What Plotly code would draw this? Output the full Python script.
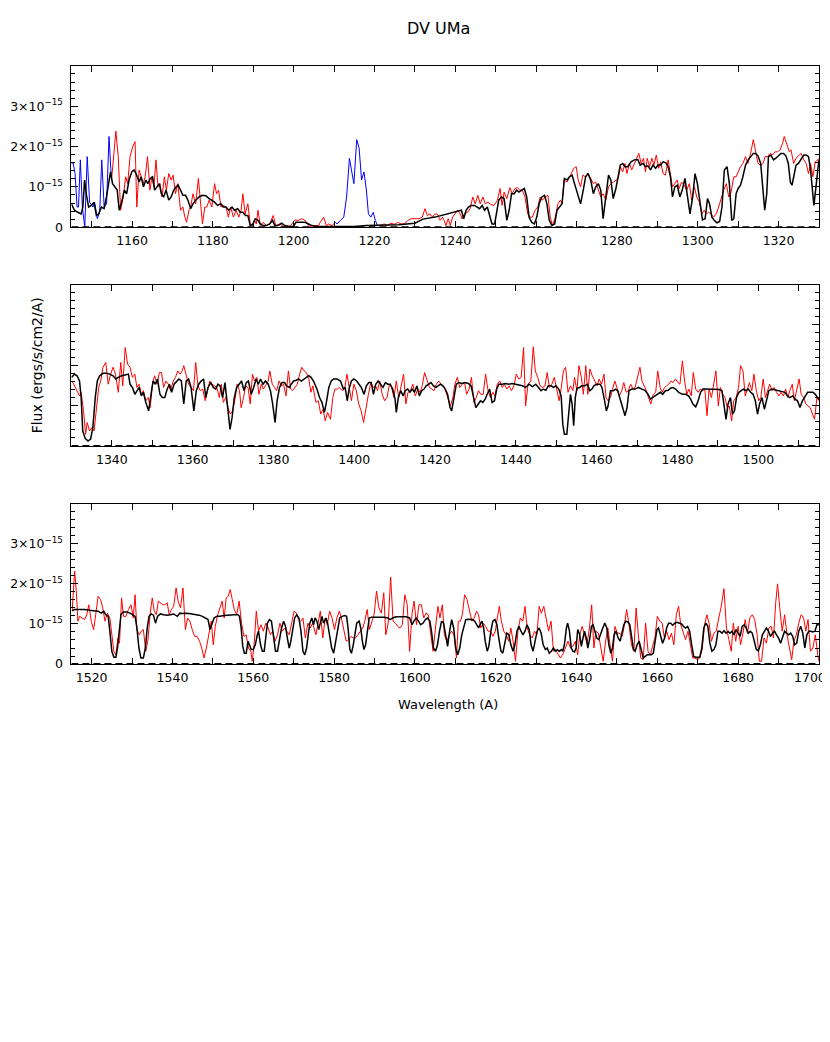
import plotly.graph_objects as go

# ---------------- Panel 1 (1145-1330 A), flux in 1e-15 erg/s/cm2/A ----------------
p1_blue_a_wave = [1145.0, 1145.4, 1145.9, 1146.4, 1146.75, 1147.2, 1147.7, 1148.3, 1148.9, 1149.5,
                  1150.3, 1150.75, 1151.4, 1152.0, 1152.5, 1153.1, 1153.7, 1154.3, 1154.9]
p1_blue_a_flux = [1.58, 1.60, 1.33, 0.50, 0.50, 1.67, 0.50, 0.00, 1.75, 0.62,
                  0.50, 0.62, 0.21, 0.38, 1.67, 0.50, 0.58, 2.25, 1.17]

p1_blue_b_wave = [1210.33, 1210.75, 1211.6, 1212.4, 1213.1, 1213.8, 1214.3, 1214.9, 1215.6, 1216.2,
                  1216.8, 1217.4, 1218.0, 1218.5, 1219.1, 1219.7, 1220.2, 1220.75, 1221.17]
p1_blue_b_flux = [0.12, 0.08, 0.17, 0.25, 0.75, 1.71, 1.42, 1.08, 2.17, 1.96,
                  1.17, 1.37, 0.92, 0.33, 0.25, 0.37, 0.17, 0.04, 0.04]

p1_red_a_wave = [1154.92, 1156.0, 1156.58, 1157.17, 1157.83, 1158.42, 1158.92, 1159.5, 1160.17, 1160.75,
                 1161.17, 1161.75, 1162.25, 1162.75, 1163.25, 1163.83, 1164.42, 1164.92, 1165.42, 1165.92,
                 1166.42, 1166.92, 1167.42, 1168.0, 1168.5, 1169.08, 1169.67, 1170.17, 1170.75, 1171.33,
                 1172.0, 1172.58, 1173.08, 1173.5, 1174.08, 1174.5, 1175.08, 1175.75, 1176.42, 1177.0,
                 1177.42, 1178.0, 1178.5, 1179.08, 1179.75, 1180.42, 1180.92, 1181.42, 1182.0, 1182.58,
                 1183.25, 1183.83, 1184.42, 1185.08, 1185.75, 1186.42, 1187.0, 1187.42, 1188.0, 1188.67,
                 1189.25, 1189.83, 1190.33, 1190.75, 1191.17, 1191.75, 1192.42, 1193.25, 1194.08, 1194.92,
                 1195.58, 1196.58, 1197.42, 1198.25, 1199.08, 1200.33, 1201.17, 1202.0, 1202.83, 1203.42,
                 1204.08, 1205.33, 1206.17, 1206.58, 1207.42, 1208.08, 1208.67, 1209.5, 1210.33]
p1_red_a_flux = [1.17, 2.38, 1.75, 0.42, 0.75, 1.25, 1.08, 1.75, 2.00, 2.12,
                 0.50, 1.42, 1.25, 1.08, 1.25, 1.75, 0.92, 1.25, 1.00, 1.67,
                 1.00, 1.08, 0.75, 1.25, 0.92, 1.33, 1.17, 1.29, 0.83, 1.08,
                 0.42, 0.50, 0.25, 0.12, 0.42, 0.50, 0.83, 0.58, 1.21, 0.42,
                 0.08, 0.50, 0.50, 0.67, 0.50, 1.08, 0.83, 0.92, 0.50, 0.54,
                 0.50, 0.25, 0.50, 0.25, 0.42, 0.25, 0.42, 0.83, 0.33, 0.58,
                 0.08, 0.04, 0.17, 0.08, 0.42, 0.04, 0.12, 0.04, 0.08, 0.29,
                 0.04, 0.08, 0.02, 0.04, 0.02, 0.18, 0.17, 0.21, 0.17, 0.07,
                 0.02, 0.04, 0.04, 0.12, 0.25, 0.04, 0.08, 0.04, 0.12]

p1_red_b_wave = [1221.17, 1222.42, 1223.25, 1224.08, 1224.92, 1225.75, 1226.58, 1227.42, 1228.25, 1229.08,
                 1231.0, 1231.83, 1232.5, 1233.08, 1233.75, 1234.33, 1234.92, 1235.58, 1236.25, 1236.83,
                 1237.25, 1237.67, 1238.25, 1238.75, 1239.33, 1240.0, 1240.58, 1241.17, 1241.67, 1242.25,
                 1243.08, 1243.67, 1244.33, 1244.92, 1245.58, 1246.17, 1246.83, 1247.42, 1248.08, 1248.75,
                 1249.58, 1250.42, 1251.08, 1251.58, 1252.08, 1252.75, 1253.5, 1254.08, 1254.75, 1255.33,
                 1256.0, 1256.58, 1257.25, 1257.92, 1258.5, 1259.08, 1259.75, 1260.42, 1261.0, 1261.58,
                 1262.25, 1262.92, 1263.5, 1264.08, 1264.75, 1265.42, 1266.0, 1266.42, 1266.92, 1267.67,
                 1268.25, 1268.75, 1269.33, 1269.92, 1270.42, 1271.0, 1271.58, 1272.25, 1272.92, 1273.5,
                 1274.17, 1274.75, 1275.42, 1276.0, 1276.58, 1277.25, 1277.92, 1278.5, 1279.17, 1279.75,
                 1280.33, 1280.83, 1281.42, 1282.0, 1282.5, 1283.08, 1283.67, 1284.17, 1284.75, 1285.42,
                 1286.0, 1286.58, 1287.08, 1287.5, 1288.08, 1288.67, 1289.17, 1289.75, 1290.33, 1290.83,
                 1291.42, 1292.0, 1292.67, 1293.25, 1293.75, 1294.33, 1294.92, 1295.42, 1296.0, 1296.67,
                 1297.25, 1297.92, 1298.5, 1299.17, 1299.75, 1300.42, 1301.0, 1301.58, 1302.08, 1302.67,
                 1303.25, 1303.92, 1304.58, 1305.17, 1305.75, 1306.42, 1307.08, 1307.67, 1308.25, 1308.92,
                 1309.5, 1310.0, 1310.58, 1311.17, 1311.83, 1312.42, 1313.08, 1313.75, 1314.33, 1314.92,
                 1315.58, 1316.17, 1316.67, 1317.25, 1317.92, 1318.5, 1319.17, 1319.75, 1320.42, 1321.0,
                 1321.42, 1322.08, 1322.67, 1323.08, 1323.75, 1324.33, 1325.0, 1325.58, 1326.25, 1326.83,
                 1327.42, 1327.92, 1328.5, 1329.08, 1329.75, 1330.0]
p1_red_b_flux = [0.04, 0.08, 0.04, 0.10, 0.07, 0.12, 0.08, 0.08, 0.17, 0.21,
                 0.21, 0.25, 0.46, 0.29, 0.33, 0.25, 0.33, 0.32, 0.17, 0.25,
                 0.17, 0.04, 0.21, 0.04, 0.25, 0.33, 0.42, 0.33, 0.21, 0.33,
                 0.37, 0.46, 0.75, 0.58, 0.79, 0.58, 0.75, 0.58, 0.62, 0.57,
                 0.54, 0.67, 0.96, 0.54, 0.87, 0.71, 0.98, 0.83, 0.96, 0.98,
                 0.92, 0.92, 0.75, 0.33, 0.25, 0.25, 0.42, 0.50, 0.75, 0.67,
                 0.75, 0.79, 0.25, 0.04, 0.25, 0.58, 0.67, 0.58, 1.17, 1.12,
                 1.25, 1.33, 1.46, 1.50, 1.17, 1.00, 1.29, 1.25, 1.33, 1.21,
                 1.08, 1.12, 0.92, 0.75, 0.83, 0.67, 1.00, 1.08, 1.12, 1.17,
                 1.21, 1.50, 1.37, 1.58, 1.33, 1.58, 1.42, 1.54, 1.67, 1.83,
                 1.58, 1.71, 1.37, 1.71, 1.50, 1.71, 1.54, 1.79, 1.46, 1.62,
                 1.33, 1.29, 1.67, 1.33, 1.00, 1.08, 1.17, 0.96, 1.12, 1.04,
                 0.92, 1.08, 0.67, 1.00, 0.75, 0.62, 0.33, 0.42, 0.33, 0.37,
                 0.33, 0.25, 0.33, 0.50, 0.71, 0.92, 1.08, 0.75, 0.87, 1.25,
                 1.25, 1.37, 1.50, 1.58, 1.75, 1.58, 1.83, 2.17, 1.83, 1.58,
                 1.54, 1.58, 1.75, 1.75, 1.83, 1.79, 1.87, 1.87, 1.92, 2.08,
                 2.25, 2.04, 1.87, 1.92, 1.58, 1.71, 1.79, 1.83, 1.67, 1.58,
                 1.33, 1.58, 1.25, 1.62, 1.67, 1.71]

p1_model_wave = [1145.0, 1145.75, 1146.58, 1147.42, 1147.83, 1148.25, 1148.67, 1149.25, 1149.92, 1150.58,
                 1151.17, 1151.75, 1152.42, 1153.08, 1153.67, 1154.08, 1154.67, 1155.17, 1155.75, 1156.33,
                 1156.83, 1157.42, 1158.08, 1158.67, 1159.25, 1159.92, 1160.5, 1161.17, 1161.75, 1162.25,
                 1162.83, 1163.42, 1163.92, 1164.5, 1165.08, 1165.58, 1166.17, 1166.75, 1167.25, 1167.83,
                 1168.42, 1169.08, 1169.67, 1170.33, 1170.92, 1171.42, 1172.0, 1172.58, 1173.25, 1173.83,
                 1174.5, 1175.08, 1175.75, 1176.58, 1177.42, 1178.25, 1179.08, 1179.75, 1180.42, 1181.17,
                 1182.0, 1182.58, 1183.25, 1183.92, 1184.75, 1185.33, 1186.17, 1186.75, 1187.42, 1188.08,
                 1188.67, 1189.25, 1189.92, 1190.5, 1191.17, 1191.75, 1192.42, 1193.25, 1194.08, 1194.75,
                 1195.33, 1196.17, 1197.0, 1197.83, 1198.67, 1199.92, 1200.58, 1201.58, 1202.83, 1203.67,
                 1204.5, 1205.75, 1210.0, 1215.0, 1218.0, 1222.0, 1226.0, 1230.0, 1232.0, 1235.0,
                 1238.0, 1240.0, 1241.5, 1242.08, 1242.67, 1243.25, 1243.92, 1244.75, 1245.42, 1246.0,
                 1246.67, 1247.25, 1247.92, 1248.5, 1249.08, 1249.75, 1250.25, 1250.75, 1251.42, 1252.08,
                 1252.75, 1253.33, 1253.92, 1254.58, 1255.17, 1255.75, 1256.42, 1257.08, 1257.67, 1258.25,
                 1258.92, 1259.58, 1260.17, 1260.75, 1261.42, 1262.08, 1262.67, 1263.25, 1263.92, 1264.58,
                 1265.17, 1265.75, 1266.42, 1267.0, 1267.67, 1268.25, 1268.92, 1269.5, 1270.17, 1271.0,
                 1271.67, 1272.25, 1272.83, 1273.5, 1274.17, 1274.75, 1275.42, 1276.0, 1276.58, 1277.25,
                 1277.92, 1278.5, 1279.08, 1279.75, 1280.33, 1280.83, 1281.42, 1282.0, 1282.67, 1283.5,
                 1284.33, 1285.17, 1285.75, 1286.42, 1287.08, 1287.67, 1288.33, 1288.92, 1289.58, 1290.17,
                 1290.83, 1291.42, 1292.08, 1292.67, 1293.25, 1293.75, 1294.33, 1294.92, 1295.58, 1296.17,
                 1296.83, 1297.42, 1298.08, 1298.75, 1299.33, 1299.92, 1300.58, 1301.17, 1301.83, 1302.42,
                 1302.92, 1303.5, 1304.08, 1304.75, 1305.42, 1306.0, 1306.58, 1307.25, 1307.83, 1308.42,
                 1308.92, 1309.5, 1310.0, 1310.58, 1311.17, 1311.83, 1312.5, 1313.08, 1313.75, 1314.33,
                 1314.92, 1315.58, 1316.17, 1316.58, 1317.08, 1317.5, 1318.08, 1318.75, 1319.33, 1320.0,
                 1320.58, 1321.25, 1321.83, 1322.42, 1322.92, 1323.33, 1323.75, 1324.33, 1324.92, 1325.58,
                 1326.25, 1326.83, 1327.42, 1327.92, 1328.33, 1328.75, 1329.17, 1329.75, 1330.0]
p1_model_flux = [0.58, 0.42, 0.37, 0.33, 0.50, 1.17, 0.83, 0.50, 0.54, 0.62,
                 0.29, 0.33, 0.50, 0.46, 0.75, 1.00, 1.37, 1.08, 1.00, 0.92,
                 0.42, 0.62, 0.92, 0.83, 1.17, 1.37, 1.42, 1.29, 1.12, 1.25,
                 1.00, 1.17, 1.08, 1.21, 1.25, 0.92, 1.00, 1.08, 0.83, 0.75,
                 0.92, 0.67, 0.75, 0.92, 1.00, 1.04, 0.92, 0.79, 0.79, 0.67,
                 0.46, 0.58, 0.67, 0.75, 0.79, 0.78, 0.71, 0.67, 0.62, 0.54,
                 0.58, 0.50, 0.50, 0.42, 0.50, 0.42, 0.46, 0.37, 0.37, 0.29,
                 0.29, 0.04, 0.08, 0.21, 0.17, 0.08, 0.04, 0.04, 0.08, 0.17,
                 0.04, 0.04, 0.10, 0.04, 0.02, 0.02, 0.12, 0.12, 0.12, 0.08,
                 0.04, 0.02, 0.02, 0.02, 0.04, 0.05, 0.06, 0.10, 0.20, 0.25,
                 0.33, 0.38, 0.42, 0.21, 0.42, 0.50, 0.54, 0.54, 0.50, 0.46,
                 0.54, 0.42, 0.50, 0.29, 0.08, 0.08, 0.33, 0.67, 0.75, 0.71,
                 0.17, 0.42, 0.83, 0.83, 0.92, 0.87, 0.92, 0.96, 0.75, 0.25,
                 0.12, 0.08, 0.25, 0.58, 0.75, 0.79, 0.58, 0.17, 0.04, 0.08,
                 0.42, 0.50, 0.58, 1.21, 1.17, 1.25, 1.29, 1.08, 0.83, 0.58,
                 0.92, 1.25, 1.33, 1.17, 0.83, 1.00, 1.08, 0.92, 0.21, 0.75,
                 1.29, 1.17, 0.71, 0.96, 1.25, 1.54, 1.58, 1.50, 1.50, 1.62,
                 1.67, 1.68, 1.54, 1.58, 1.50, 1.52, 1.42, 1.54, 1.46, 1.54,
                 1.54, 1.62, 1.60, 1.50, 1.25, 0.75, 1.00, 1.04, 0.75, 0.92,
                 1.21, 0.83, 0.33, 0.75, 1.33, 1.08, 0.62, 0.18, 0.21, 0.71,
                 0.58, 0.25, 0.17, 0.11, 0.14, 0.50, 1.42, 1.50, 1.08, 0.17,
                 0.21, 0.83, 0.96, 1.04, 1.25, 1.54, 1.67, 1.75, 1.83, 1.83,
                 1.77, 1.58, 0.75, 0.42, 0.83, 1.75, 1.79, 1.67, 1.71, 1.79,
                 1.83, 1.83, 1.77, 1.58, 1.12, 1.04, 1.25, 1.54, 1.58, 1.67,
                 1.79, 1.79, 1.75, 1.42, 0.92, 0.54, 0.92, 1.58, 1.67]

# ---------------- Panel 2 (1330-1515 A) ----------------
p2_red_wave = [1330.17, 1330.75, 1331.4, 1332.0, 1332.4, 1333.0, 1333.5, 1333.9, 1334.5, 1335.1,
               1335.6, 1336.2, 1336.75, 1337.25, 1337.8, 1338.5, 1339.1, 1339.7, 1340.3, 1340.9,
               1341.6, 1342.2, 1342.7, 1343.3, 1343.9, 1344.5, 1345.1, 1345.7, 1346.2, 1346.75,
               1347.3, 1347.8, 1348.4, 1349.0, 1349.5, 1350.1, 1350.6, 1351.2, 1351.75, 1352.3,
               1352.8, 1353.4, 1354.0, 1354.5, 1355.2, 1355.75, 1356.3, 1356.9, 1357.4, 1357.8,
               1358.4, 1359.0, 1359.6, 1360.2, 1360.75, 1361.3, 1361.9, 1362.5, 1363.1, 1363.7,
               1364.25, 1364.8, 1365.4, 1366.0, 1366.6, 1367.1, 1367.6, 1368.2, 1368.75, 1369.3,
               1369.9, 1370.5, 1371.0, 1371.6, 1372.0, 1372.6, 1373.1, 1373.7, 1374.25, 1374.8,
               1375.3, 1375.9, 1376.4, 1377.0, 1377.5, 1378.1, 1378.7, 1379.1, 1379.7, 1380.25,
               1380.8, 1381.4, 1382.0, 1382.5, 1383.1, 1383.7, 1384.25, 1384.75, 1385.3, 1385.9,
               1386.5, 1387.0, 1387.6, 1388.1, 1388.7, 1389.25, 1389.75, 1390.5, 1391.1, 1391.7,
               1392.3, 1392.8, 1393.4, 1394.1, 1394.7, 1395.2, 1395.8, 1396.3, 1397.0, 1397.6,
               1398.2, 1398.75, 1399.3, 1399.9, 1400.5, 1401.1, 1401.7, 1402.3, 1402.9, 1403.5,
               1404.1, 1404.7, 1405.3, 1405.75, 1406.3, 1406.9, 1407.5, 1408.1, 1408.7, 1409.25,
               1409.8, 1410.4, 1411.0, 1411.6, 1412.2, 1412.75, 1413.3, 1413.9, 1414.5, 1415.1,
               1415.7, 1416.3, 1416.8, 1417.4, 1418.0, 1418.6, 1419.2, 1419.75, 1420.3, 1420.9,
               1421.5, 1422.1, 1422.7, 1423.3, 1423.8, 1424.4, 1424.9, 1425.5, 1426.1, 1426.7,
               1427.3, 1427.8, 1428.4, 1429.0, 1429.6, 1430.2, 1430.75, 1431.3, 1431.9, 1432.5,
               1433.1, 1433.7, 1434.3, 1434.8, 1435.4, 1436.0, 1436.6, 1437.2, 1437.75, 1438.3,
               1438.9, 1439.5, 1440.1, 1440.7, 1441.3, 1441.9, 1442.4, 1443.0, 1443.7, 1444.3,
               1444.8, 1445.4, 1446.0, 1446.6, 1447.2, 1447.75, 1448.3, 1448.9, 1449.5, 1450.1,
               1450.7, 1451.25, 1451.75, 1452.3, 1452.9, 1453.5, 1454.1, 1454.5, 1455.1, 1455.6,
               1456.2, 1456.7, 1457.3, 1457.8, 1458.3, 1458.9, 1459.5, 1460.1, 1460.6, 1461.2,
               1461.8, 1462.3, 1462.8, 1463.4, 1463.9, 1464.5, 1465.1, 1465.6, 1466.2, 1466.7,
               1467.3, 1467.8, 1468.4, 1469.0, 1469.5, 1470.1, 1470.7, 1471.2, 1471.75, 1472.3,
               1472.8, 1473.4, 1474.0, 1474.6, 1475.1, 1475.7, 1476.2, 1476.8, 1477.3, 1477.8,
               1478.4, 1478.9, 1479.5, 1480.1, 1480.6, 1481.2, 1481.75, 1482.3, 1482.8, 1483.4,
               1483.9, 1484.5, 1485.1, 1485.6, 1486.2, 1486.75, 1487.3, 1487.8, 1488.4, 1488.9,
               1489.5, 1490.1, 1490.6, 1491.2, 1491.75, 1492.3, 1492.8, 1493.4, 1493.9, 1494.5,
               1495.1, 1495.6, 1496.2, 1496.75, 1497.3, 1497.8, 1498.4, 1498.9, 1499.5, 1500.1,
               1500.6, 1501.2, 1501.75, 1502.3, 1502.8, 1503.4, 1503.9, 1504.5, 1505.1, 1505.6,
               1506.2, 1506.75, 1507.3, 1507.8, 1508.4, 1508.9, 1509.5, 1510.1, 1510.6, 1511.2,
               1511.75, 1512.3, 1512.8, 1513.4, 1513.9, 1514.5, 1515.0]
p2_red_flux = [1.61, 1.49, 1.37, 1.24, 1.33, 0.87, 0.29, 0.58, 0.37, 0.46,
               0.37, 0.95, 1.45, 1.61, 1.95, 2.07, 1.53, 1.78, 1.95, 1.78,
               1.33, 2.07, 1.49, 2.44, 2.03, 1.95, 1.70, 1.78, 1.45, 1.53,
               1.28, 1.37, 1.12, 1.20, 0.95, 1.57, 1.74, 1.53, 1.82, 1.82,
               1.45, 1.61, 1.53, 1.37, 1.61, 1.70, 1.86, 1.78, 1.86, 1.99,
               1.78, 1.53, 1.45, 1.37, 2.07, 1.49, 1.37, 1.41, 1.12, 1.41,
               1.61, 1.53, 1.49, 1.45, 1.20, 1.53, 1.08, 1.20, 0.95, 0.79,
               0.87, 1.16, 1.53, 1.37, 0.95, 1.20, 1.49, 1.45, 1.04, 1.78,
               1.61, 1.70, 1.28, 1.53, 1.41, 1.53, 1.61, 1.86, 1.53, 1.45,
               1.37, 1.61, 1.49, 1.53, 1.24, 1.86, 1.41, 1.37, 1.45, 1.53,
               1.78, 1.95, 1.86, 1.82, 1.70, 1.33, 1.49, 1.08, 1.12, 0.79,
               0.91, 0.62, 0.83, 0.66, 1.20, 1.41, 1.41, 1.45, 1.37, 1.41,
               1.78, 1.49, 1.12, 1.53, 1.37, 1.04, 0.87, 0.58, 0.99, 1.28,
               1.57, 1.45, 1.49, 1.37, 1.61, 1.28, 1.12, 1.20, 1.53, 1.45,
               1.20, 1.61, 1.20, 1.45, 1.78, 1.04, 1.33, 1.37, 1.53, 1.24,
               1.41, 1.33, 1.49, 1.82, 1.61, 1.45, 1.41, 1.37, 1.53, 1.61,
               1.53, 1.49, 1.33, 1.16, 0.99, 1.20, 1.53, 1.70, 1.45, 1.53,
               1.57, 1.28, 1.41, 1.70, 1.08, 1.20, 1.37, 1.28, 1.28, 1.78,
               1.37, 1.20, 1.33, 1.24, 1.53, 1.61, 1.45, 1.53, 1.41, 1.49,
               1.37, 1.49, 1.78, 1.66, 1.70, 2.44, 0.99, 1.53, 1.61, 2.46,
               1.86, 1.70, 1.49, 1.45, 1.49, 1.82, 1.45, 1.53, 1.70, 1.41,
               1.12, 1.45, 1.86, 1.95, 1.33, 1.49, 1.37, 1.70, 1.37, 1.99,
               1.70, 1.28, 1.99, 1.28, 1.91, 1.74, 1.61, 1.49, 1.66, 1.53,
               1.78, 1.20, 1.12, 1.20, 1.41, 1.61, 1.41, 1.24, 1.37, 1.57,
               1.33, 1.37, 1.53, 1.41, 1.45, 1.70, 1.95, 1.61, 1.49, 1.37,
               1.20, 1.04, 1.28, 1.33, 1.86, 1.45, 1.33, 1.45, 1.49, 1.53,
               1.61, 1.57, 1.66, 1.57, 1.53, 2.11, 1.61, 1.28, 1.41, 1.24,
               1.82, 1.41, 1.33, 1.41, 1.37, 1.41, 0.75, 1.41, 1.20, 1.53,
               1.86, 0.99, 1.45, 1.28, 1.20, 0.95, 0.99, 0.62, 1.12, 1.20,
               1.45, 1.99, 1.86, 1.24, 1.41, 1.57, 1.37, 1.78, 1.37, 1.12,
               1.20, 1.66, 1.20, 1.41, 1.53, 1.37, 1.45, 1.33, 1.24, 1.33,
               1.24, 1.41, 1.20, 1.37, 1.53, 1.12, 1.41, 1.66, 1.28, 1.20,
               1.04, 0.99, 0.95, 0.79, 0.66, 1.20, 1.12]

p2_model_wave = [1330.0, 1330.75, 1331.4, 1332.0, 1332.4, 1332.8, 1333.4, 1334.1, 1334.75, 1335.3,
                 1335.9, 1336.4, 1337.0, 1337.8, 1338.7, 1339.5, 1340.3, 1341.0, 1341.6, 1342.4,
                 1343.25, 1344.1, 1344.5, 1345.1, 1345.7, 1346.2, 1346.75, 1347.3, 1347.8, 1348.4,
                 1349.1, 1349.7, 1350.2, 1350.75, 1351.3, 1351.9, 1352.5, 1353.1, 1353.7, 1354.25,
                 1354.8, 1355.4, 1356.0, 1356.6, 1357.2, 1357.8, 1358.4, 1359.0, 1359.6, 1360.3,
                 1360.9, 1361.5, 1362.1, 1362.7, 1363.25, 1363.8, 1364.5, 1365.1, 1365.7, 1366.25,
                 1366.8, 1367.4, 1368.0, 1368.5, 1369.25, 1369.75, 1370.3, 1370.9, 1371.5, 1372.1,
                 1372.7, 1373.25, 1373.8, 1374.5, 1375.1, 1375.7, 1376.25, 1376.8, 1377.4, 1378.0,
                 1378.7, 1379.25, 1379.8, 1380.4, 1380.9, 1381.5, 1382.1, 1382.75, 1383.25, 1383.9,
                 1384.4, 1385.0, 1385.6, 1386.2, 1386.9, 1387.5, 1388.1, 1388.75, 1389.3, 1389.9,
                 1390.75, 1391.4, 1392.0, 1392.6, 1393.1, 1393.7, 1394.3, 1394.9, 1395.75, 1396.6,
                 1397.3, 1397.75, 1398.25, 1398.8, 1399.3, 1399.9, 1400.6, 1401.2, 1401.75, 1402.4,
                 1403.0, 1403.6, 1404.2, 1404.75, 1405.3, 1405.9, 1406.5, 1407.1, 1407.7, 1408.3,
                 1408.9, 1409.5, 1410.1, 1410.4, 1410.9, 1411.5, 1412.1, 1412.6, 1413.2, 1413.8,
                 1414.3, 1414.9, 1415.5, 1416.1, 1416.7, 1417.25, 1417.8, 1418.4, 1419.0, 1419.6,
                 1420.2, 1420.75, 1421.3, 1421.9, 1422.5, 1423.1, 1423.7, 1424.1, 1424.7, 1425.25,
                 1425.8, 1426.6, 1427.4, 1428.25, 1428.9, 1429.5, 1430.1, 1430.7, 1431.25, 1431.8,
                 1432.4, 1432.9, 1433.5, 1434.1, 1434.7, 1435.25, 1435.8, 1436.6, 1437.4, 1438.25,
                 1439.1, 1439.9, 1440.75, 1441.6, 1442.4, 1443.25, 1444.1, 1444.9, 1445.6, 1446.2,
                 1446.75, 1447.4, 1448.0, 1448.7, 1449.3, 1449.9, 1450.6, 1451.2, 1451.6, 1452.0,
                 1452.6, 1453.0, 1453.5, 1453.9, 1454.3, 1454.7, 1455.1, 1455.8, 1456.3, 1457.0,
                 1457.7, 1458.3, 1458.8, 1459.3, 1459.9, 1460.8, 1461.3, 1461.8, 1462.4, 1462.8,
                 1463.4, 1464.1, 1464.7, 1465.2, 1465.75, 1466.3, 1467.0, 1467.5, 1468.0, 1468.7,
                 1469.5, 1470.3, 1471.2, 1472.0, 1472.7, 1473.3, 1473.8, 1474.5, 1475.2, 1475.75,
                 1476.3, 1477.0, 1477.7, 1478.25, 1478.9, 1479.5, 1480.3, 1481.2, 1482.0, 1482.7,
                 1483.25, 1483.8, 1484.5, 1485.1, 1485.7, 1486.3, 1487.0, 1487.8, 1488.7, 1489.5,
                 1490.3, 1491.0, 1491.5, 1492.0, 1492.5, 1493.1, 1493.6, 1494.1, 1494.6, 1495.2,
                 1495.75, 1496.3, 1496.9, 1497.5, 1498.1, 1498.7, 1499.25, 1499.8, 1500.3, 1500.9,
                 1501.5, 1502.0, 1502.6, 1503.3, 1504.1, 1504.9, 1505.75, 1506.6, 1507.2, 1507.8,
                 1508.5, 1509.1, 1509.7, 1510.3, 1510.9, 1511.6, 1512.2, 1512.8, 1513.5, 1514.1,
                 1514.7, 1515.0]
p2_model_flux = [1.70, 1.78, 1.74, 1.61, 1.20, 0.37, 0.19, 0.12, 0.17, 0.46,
                 1.20, 1.61, 1.74, 1.80, 1.80, 1.78, 1.74, 1.66, 1.70, 1.74,
                 1.76, 1.78, 1.53, 1.45, 1.28, 1.37, 1.45, 1.24, 1.33, 1.08,
                 0.87, 1.28, 1.61, 1.53, 1.66, 1.28, 1.20, 1.20, 1.41, 1.53,
                 1.33, 1.53, 1.61, 1.66, 1.61, 1.04, 1.61, 1.66, 1.45, 0.87,
                 1.37, 1.53, 1.61, 1.66, 1.20, 1.45, 1.57, 1.45, 1.41, 1.53,
                 1.49, 1.20, 1.57, 1.04, 0.41, 0.70, 1.20, 1.45, 1.53, 1.61,
                 1.37, 1.57, 1.61, 1.28, 1.45, 1.66, 1.53, 1.66, 1.53, 1.61,
                 1.53, 1.37, 1.04, 0.58, 1.12, 1.45, 1.57, 1.57, 1.49, 1.45,
                 1.53, 1.61, 1.63, 1.66, 1.61, 1.66, 1.70, 1.74, 1.70, 1.61,
                 1.41, 1.20, 1.08, 0.83, 1.08, 1.45, 1.61, 1.66, 1.66, 1.61,
                 1.41, 1.45, 1.12, 1.45, 1.61, 1.66, 1.61, 1.53, 1.45, 1.28,
                 1.49, 1.57, 1.57, 1.28, 1.53, 1.61, 1.53, 1.45, 1.57, 1.53,
                 1.53, 1.41, 1.16, 0.83, 1.20, 1.37, 1.24, 1.37, 1.41, 1.33,
                 1.41, 1.33, 1.49, 1.24, 1.37, 1.41, 1.49, 1.53, 1.57, 1.49,
                 1.45, 1.49, 1.53, 1.49, 1.41, 1.28, 0.95, 0.87, 1.20, 1.53,
                 1.57, 1.55, 1.57, 1.55, 1.49, 1.20, 0.95, 1.04, 1.12, 1.08,
                 1.16, 1.28, 1.41, 1.08, 1.12, 1.41, 1.53, 1.53, 1.55, 1.53,
                 1.55, 1.53, 1.51, 1.49, 1.45, 1.53, 1.47, 1.53, 1.45, 1.37,
                 1.41, 1.38, 1.49, 1.49, 1.45, 1.49, 1.41, 1.24, 0.54, 0.29,
                 0.29, 0.70, 1.28, 1.04, 0.50, 1.20, 1.43, 1.45, 1.49, 1.49,
                 1.53, 1.37, 1.41, 1.49, 1.53, 1.53, 1.45, 1.20, 0.87, 0.99,
                 1.37, 1.37, 1.41, 1.37, 1.20, 0.99, 0.75, 0.95, 1.37, 1.41,
                 1.41, 1.45, 1.41, 1.37, 1.28, 1.16, 1.20, 1.24, 1.28, 1.33,
                 1.28, 1.37, 1.38, 1.43, 1.45, 1.41, 1.33, 1.28, 1.28, 1.24,
                 1.16, 1.04, 0.97, 1.12, 1.33, 1.41, 1.41, 1.41, 1.41, 1.41,
                 1.40, 1.37, 1.04, 0.66, 1.04, 1.20, 0.79, 0.87, 1.20, 1.33,
                 1.37, 1.41, 1.37, 1.41, 1.33, 1.28, 1.12, 0.79, 1.04, 1.20,
                 0.91, 1.12, 1.37, 1.41, 1.39, 1.37, 1.35, 1.33, 1.24, 1.20,
                 1.24, 1.16, 1.12, 0.95, 1.12, 1.24, 1.33, 1.33, 1.33, 1.28,
                 1.20, 1.15]

# ---------------- Panel 3 (1515-1700 A) ----------------
p3_red_wave = [1515.17, 1515.5, 1515.8, 1516.2, 1516.6, 1517.0, 1517.6, 1518.25, 1518.8, 1519.3,
               1519.9, 1520.5, 1521.0, 1521.6, 1522.2, 1522.75, 1523.3, 1523.9, 1524.5, 1525.0,
               1525.5, 1526.0, 1526.5, 1526.9, 1527.4, 1527.9, 1528.5, 1529.1, 1529.75, 1530.3,
               1530.75, 1531.2, 1531.8, 1532.3, 1532.8, 1533.4, 1533.9, 1534.5, 1535.0, 1535.5,
               1536.0, 1536.5, 1537.0, 1537.6, 1538.2, 1538.7, 1539.2, 1539.75, 1540.3, 1540.9,
               1541.4, 1542.0, 1542.6, 1543.2, 1543.75, 1544.3, 1544.9, 1545.5, 1546.1, 1546.7,
               1547.25, 1547.8, 1548.4, 1549.0, 1549.6, 1550.1, 1550.6, 1551.2, 1551.75, 1552.3,
               1552.8, 1553.3, 1553.8, 1554.3, 1554.8, 1555.3, 1555.9, 1556.5, 1557.1, 1557.7,
               1558.25, 1558.8, 1559.4, 1559.75, 1560.2, 1560.75, 1561.3, 1561.9, 1562.5, 1563.1,
               1563.7, 1564.25, 1564.8, 1565.4, 1566.0, 1566.6, 1567.2, 1567.8, 1568.3, 1568.9,
               1569.5, 1570.1, 1570.7, 1571.2, 1571.75, 1572.3, 1572.9, 1573.5, 1574.1, 1574.7,
               1575.5, 1576.1, 1576.6, 1577.2, 1577.8, 1578.3, 1578.9, 1579.5, 1580.1, 1580.7,
               1581.3, 1581.8, 1582.4, 1583.0, 1583.6, 1584.2, 1584.75, 1585.3, 1585.9, 1586.5,
               1587.1, 1587.6, 1588.2, 1588.75, 1589.3, 1589.9, 1590.5, 1591.1, 1591.7, 1592.3,
               1592.8, 1593.4, 1594.0, 1594.6, 1595.2, 1595.75, 1596.3, 1596.9, 1597.5, 1598.1,
               1598.7, 1599.3, 1599.8, 1600.4, 1601.0, 1601.6, 1602.2, 1602.75, 1603.3, 1603.9,
               1604.5, 1605.1, 1605.7, 1606.2, 1606.8, 1607.3, 1607.9, 1608.5, 1609.1, 1609.7,
               1610.3, 1610.75, 1611.3, 1611.8, 1612.3, 1612.9, 1613.5, 1614.1, 1614.7, 1615.25,
               1615.75, 1616.3, 1616.9, 1617.5, 1618.1, 1618.7, 1619.3, 1619.9, 1620.4, 1620.9,
               1621.4, 1622.0, 1622.6, 1623.2, 1623.75, 1624.3, 1624.9, 1625.5, 1626.1, 1626.7,
               1627.25, 1627.8, 1628.4, 1629.0, 1629.6, 1630.2, 1630.75, 1631.3, 1631.9, 1632.5,
               1633.1, 1633.7, 1634.3, 1634.8, 1635.4, 1636.0, 1636.75, 1637.3, 1637.9, 1638.5,
               1639.1, 1639.7, 1640.3, 1640.8, 1641.4, 1642.0, 1642.6, 1643.2, 1643.75, 1644.3,
               1644.8, 1645.4, 1646.0, 1646.6, 1647.2, 1647.75, 1648.3, 1648.9, 1649.5, 1650.1,
               1650.7, 1651.3, 1651.8, 1652.4, 1653.0, 1653.6, 1654.2, 1654.75, 1655.3, 1655.9,
               1656.5, 1657.1, 1657.7, 1658.3, 1658.8, 1659.4, 1660.0, 1660.6, 1661.2, 1661.75,
               1662.3, 1662.9, 1663.5, 1664.1, 1664.7, 1665.25, 1665.8, 1666.4, 1667.0, 1667.6,
               1668.2, 1668.75, 1669.3, 1669.9, 1670.5, 1671.1, 1671.7, 1672.25, 1672.8, 1673.4,
               1674.0, 1674.6, 1675.2, 1675.75, 1676.5, 1677.1, 1677.7, 1678.3, 1678.8, 1679.4,
               1680.0, 1680.6, 1681.2, 1681.75, 1682.3, 1682.9, 1683.5, 1684.1, 1684.7, 1685.25,
               1685.8, 1686.4, 1687.0, 1687.6, 1688.2, 1688.75, 1689.3, 1689.75, 1690.3, 1690.9,
               1691.5, 1692.1, 1692.7, 1693.25, 1693.8, 1694.4, 1695.0, 1695.6, 1696.2, 1696.75,
               1697.3, 1697.9, 1698.5, 1699.1, 1699.7, 1700.0]
p3_red_flux = [1.32, 1.90, 2.32, 1.82, 1.07, 1.19, 1.15, 1.11, 1.23, 1.48,
               1.07, 0.86, 1.23, 1.69, 1.61, 1.40, 1.07, 1.27, 1.15, 0.73,
               0.32, 0.23, 0.65, 0.52, 1.65, 1.19, 1.19, 1.36, 1.48, 1.15,
               1.73, 0.86, 0.73, 0.82, 0.86, 0.32, 0.57, 1.27, 1.65, 1.32,
               1.23, 1.57, 1.53, 1.48, 1.48, 1.53, 1.23, 1.36, 1.44, 1.90,
               1.57, 1.40, 1.90, 0.86, 1.15, 1.07, 0.86, 0.69, 0.69, 0.57,
               0.40, 0.15, 0.40, 0.69, 1.07, 0.48, 0.94, 1.23, 1.40, 1.57,
               1.15, 1.65, 1.69, 1.86, 1.61, 1.36, 1.23, 1.57, 1.02, 0.69,
               0.73, 0.40, 0.32, 0.07, 0.48, 1.32, 0.82, 0.98, 0.82, 1.02,
               0.90, 0.73, 0.82, 0.57, 0.73, 1.02, 0.82, 0.90, 0.82, 0.73,
               1.02, 1.32, 1.27, 1.11, 1.07, 1.15, 0.65, 1.02, 0.90, 1.02,
               0.73, 1.07, 1.32, 0.65, 1.15, 0.98, 1.32, 1.15, 0.86, 1.15,
               1.32, 1.15, 0.82, 0.57, 0.61, 0.69, 0.65, 0.65, 0.73, 0.82,
               0.90, 1.07, 1.36, 0.86, 1.02, 1.23, 1.82, 1.40, 1.27, 1.78,
               0.73, 1.02, 2.17, 1.07, 1.02, 0.94, 0.90, 0.98, 1.73, 1.48,
               0.32, 1.27, 1.57, 0.98, 1.48, 1.48, 1.15, 1.27, 1.23, 0.73,
               0.32, 0.90, 1.44, 1.15, 1.48, 0.73, 0.57, 0.73, 0.82, 0.73,
               0.15, 1.07, 1.07, 1.27, 1.73, 1.61, 1.32, 1.07, 1.15, 1.32,
               1.23, 0.90, 1.02, 0.94, 0.82, 0.82, 0.69, 0.82, 1.15, 1.44,
               1.07, 0.82, 0.73, 0.57, 0.90, 0.57, 0.07, 0.82, 1.15, 1.07,
               1.44, 0.90, 0.73, 0.65, 0.82, 0.73, 1.44, 1.27, 1.44, 1.15,
               0.82, 1.07, 0.32, 0.36, 0.27, 0.15, 0.27, 0.40, 0.57, 0.40,
               0.44, 0.57, 0.23, 0.73, 0.94, 0.73, 0.52, 0.90, 1.48, 0.40,
               0.82, 0.77, 0.40, 0.07, 0.57, 0.90, 0.48, 0.07, 0.94, 0.77,
               0.77, 0.69, 0.94, 1.36, 0.98, 0.48, 0.32, 1.40, 0.73, 0.15,
               0.11, 1.02, 0.32, 0.23, 0.44, 0.65, 1.19, 1.07, 1.02, 0.65,
               0.82, 0.61, 0.77, 0.48, 1.23, 1.44, 0.98, 0.82, 0.61, 0.82,
               0.48, 0.15, 0.15, 0.11, 0.15, 0.36, 0.98, 1.23, 1.02, 0.57,
               0.77, 0.82, 1.15, 1.40, 1.88, 0.90, 0.61, 0.32, 1.02, 0.57,
               0.94, 0.48, 0.77, 1.11, 0.77, 1.15, 1.23, 1.11, 0.73, 0.07,
               0.07, 0.65, 0.52, 0.90, 0.94, 0.65, 1.53, 2.00, 1.40, 0.82,
               1.23, 0.73, 0.40, 0.11, 0.57, 0.73, 1.02, 1.23, 1.15, 0.82,
               1.11, 0.32, 0.40, 0.73, 0.23, 0.07]

p3_model_wave = [1515.2, 1515.75, 1517.0, 1518.25, 1519.5, 1520.75, 1521.6, 1522.4, 1523.0, 1523.5,
                 1524.1, 1524.5, 1525.0, 1525.5, 1526.0, 1526.4, 1526.8, 1527.25, 1527.8, 1528.7,
                 1529.5, 1530.2, 1530.75, 1531.2, 1531.7, 1532.2, 1532.8, 1533.3, 1533.75, 1534.2,
                 1534.75, 1535.3, 1535.8, 1536.3, 1537.0, 1537.8, 1538.7, 1539.5, 1540.3, 1541.2,
                 1541.8, 1542.4, 1543.25, 1544.1, 1544.9, 1545.75, 1546.6, 1547.4, 1548.25, 1548.8,
                 1549.3, 1549.8, 1550.3, 1551.0, 1551.8, 1552.7, 1553.5, 1554.5, 1555.3, 1556.2,
                 1556.6, 1557.0, 1557.4, 1557.8, 1558.25, 1558.7, 1559.1, 1559.5, 1560.0, 1560.5,
                 1561.0, 1561.3, 1561.8, 1562.25, 1562.7, 1563.1, 1563.5, 1564.0, 1564.5, 1565.0,
                 1565.5, 1566.0, 1566.5, 1567.0, 1567.5, 1568.0, 1568.5, 1568.9, 1569.3, 1569.75,
                 1570.25, 1570.75, 1571.3, 1571.8, 1572.3, 1572.75, 1573.2, 1573.6, 1574.0, 1574.5,
                 1574.9, 1575.3, 1575.75, 1576.2, 1576.6, 1577.0, 1577.4, 1578.0, 1578.4, 1578.9,
                 1579.4, 1579.9, 1580.4, 1580.9, 1581.4, 1582.0, 1582.6, 1583.1, 1583.5, 1583.9,
                 1584.3, 1584.75, 1585.2, 1585.6, 1586.2, 1586.6, 1587.0, 1587.4, 1587.8, 1588.3,
                 1588.7, 1589.3, 1589.9, 1590.75, 1591.6, 1592.4, 1593.3, 1593.9, 1594.5, 1595.3,
                 1596.2, 1597.0, 1597.8, 1598.7, 1599.3, 1599.75, 1600.3, 1600.9, 1601.4, 1602.0,
                 1602.6, 1603.1, 1603.7, 1604.1, 1604.6, 1605.1, 1605.6, 1606.1, 1606.6, 1607.1,
                 1607.6, 1608.1, 1608.6, 1609.1, 1609.6, 1610.1, 1610.6, 1611.1, 1611.6, 1612.1,
                 1612.6, 1613.1, 1613.7, 1614.3, 1614.8, 1615.3, 1615.75, 1616.3, 1616.6, 1617.0,
                 1617.4, 1617.9, 1618.3, 1618.8, 1619.3, 1619.8, 1620.3, 1620.75, 1621.3, 1621.75,
                 1622.25, 1622.75, 1623.25, 1623.75, 1624.3, 1624.75, 1625.25, 1625.75, 1626.25, 1626.75,
                 1627.25, 1627.75, 1628.3, 1628.75, 1629.25, 1629.75, 1630.25, 1630.75, 1631.25, 1631.75,
                 1632.3, 1632.75, 1633.25, 1633.75, 1634.3, 1634.75, 1635.25, 1635.75, 1636.3, 1636.6,
                 1637.0, 1637.5, 1637.8, 1638.25, 1638.7, 1639.1, 1639.5, 1639.9, 1640.3, 1640.8,
                 1641.2, 1641.6, 1642.0, 1642.4, 1642.8, 1643.3, 1643.7, 1644.1, 1644.5, 1645.0,
                 1645.5, 1646.0, 1646.5, 1647.0, 1647.5, 1648.0, 1648.5, 1648.9, 1649.3, 1649.8,
                 1650.3, 1650.8, 1651.2, 1651.7, 1652.2, 1652.7, 1653.2, 1653.7, 1654.1, 1654.5,
                 1655.0, 1655.5, 1656.0, 1656.5, 1657.0, 1657.5, 1658.0, 1658.5, 1659.0, 1659.5,
                 1659.9, 1660.3, 1660.8, 1661.3, 1661.8, 1662.3, 1662.8, 1663.3, 1663.8, 1664.3,
                 1664.9, 1665.5, 1666.0, 1666.5, 1667.0, 1667.5, 1668.0, 1668.5, 1669.0, 1669.5,
                 1670.0, 1670.5, 1671.0, 1671.5, 1672.0, 1672.5, 1673.0, 1673.5, 1674.0, 1674.5,
                 1675.0, 1675.5, 1676.0, 1676.5, 1677.0, 1677.5, 1678.0, 1678.5, 1679.0, 1679.5,
                 1680.0, 1680.5, 1681.0, 1681.5, 1682.0, 1682.5, 1683.0, 1683.5, 1684.0, 1684.5,
                 1685.0, 1685.5, 1686.0, 1686.5, 1687.0, 1687.5, 1688.0, 1688.5, 1689.0, 1689.5,
                 1690.0, 1690.5, 1691.0, 1691.5, 1692.0, 1692.5, 1693.0, 1693.5, 1694.0, 1694.5,
                 1695.0, 1695.5, 1696.0, 1696.5, 1697.0, 1697.5, 1698.0, 1698.5, 1699.0, 1699.5,
                 1700.0]
p3_model_flux = [1.33, 1.36, 1.36, 1.36, 1.34, 1.33, 1.32, 1.27, 1.32, 1.23,
                 1.19, 0.82, 0.32, 0.17, 0.17, 0.40, 0.90, 1.23, 1.30, 1.30,
                 1.27, 1.23, 1.19, 0.90, 0.40, 0.15, 0.15, 0.40, 0.90, 1.19,
                 1.25, 1.22, 1.02, 1.19, 1.25, 1.23, 1.22, 1.23, 1.25, 1.19,
                 1.27, 1.26, 1.27, 1.26, 1.25, 1.23, 1.22, 1.19, 1.15, 1.11,
                 0.86, 1.02, 1.15, 1.19, 1.19, 1.21, 1.22, 1.22, 1.23, 1.23,
                 1.19, 0.90, 0.44, 0.27, 0.27, 0.57, 0.48, 0.36, 0.36, 0.48,
                 0.73, 0.82, 0.48, 0.32, 0.32, 0.65, 1.02, 1.11, 1.07, 0.69,
                 0.32, 0.32, 0.65, 0.90, 1.07, 0.94, 0.61, 0.40, 0.57, 0.90,
                 1.15, 1.23, 1.15, 0.82, 0.32, 0.23, 0.40, 0.73, 1.02, 1.15,
                 0.98, 1.15, 1.07, 0.86, 1.07, 1.19, 1.02, 1.15, 1.02, 0.65,
                 0.40, 0.27, 0.57, 0.90, 1.15, 1.19, 1.21, 1.19, 0.86, 0.36,
                 0.27, 0.48, 0.82, 1.02, 1.07, 0.90, 0.57, 0.36, 0.48, 0.82,
                 1.15, 1.17, 1.17, 1.17, 1.17, 1.17, 1.15, 1.11, 1.15, 1.18,
                 1.18, 1.18, 1.18, 1.15, 0.98, 1.07, 1.15, 1.07, 0.98, 1.02,
                 1.11, 1.15, 1.07, 0.82, 0.40, 0.32, 0.48, 0.82, 1.07, 1.02,
                 0.77, 0.44, 0.82, 1.11, 0.90, 0.40, 0.23, 0.40, 0.73, 0.94,
                 1.11, 1.12, 1.12, 1.11, 1.07, 0.98, 0.90, 1.02, 1.07, 0.90,
                 0.57, 0.32, 0.44, 0.82, 1.07, 1.11, 0.98, 0.65, 0.32, 0.27,
                 0.57, 0.77, 0.73, 0.48, 0.32, 0.48, 0.82, 0.94, 0.82, 0.73,
                 0.82, 0.98, 0.86, 0.48, 0.32, 0.57, 0.82, 0.90, 0.77, 0.48,
                 0.36, 0.40, 0.27, 0.32, 0.40, 0.32, 0.36, 0.32, 0.36, 0.32,
                 0.48, 0.90, 1.02, 0.82, 0.40, 0.32, 0.30, 0.40, 0.86, 0.73,
                 0.44, 0.65, 0.82, 0.65, 0.40, 0.65, 0.94, 0.98, 0.82, 0.65,
                 0.61, 0.77, 0.90, 1.02, 0.90, 0.48, 0.27, 0.40, 0.73, 0.82,
                 0.65, 0.57, 0.77, 0.98, 1.07, 1.05, 0.98, 0.65, 0.36, 0.32,
                 0.48, 0.57, 0.32, 0.15, 0.19, 0.23, 0.23, 0.23, 0.27, 0.57,
                 0.86, 0.90, 0.73, 0.52, 0.65, 0.90, 1.02, 1.02, 0.97, 1.02,
                 1.04, 1.02, 1.00, 0.94, 0.90, 0.94, 0.82, 0.48, 0.19, 0.17,
                 0.17, 0.17, 0.40, 0.90, 1.02, 0.94, 0.52, 0.32, 0.36, 0.48,
                 0.82, 0.82, 0.77, 0.83, 0.77, 0.82, 0.77, 0.82, 0.73, 0.86,
                 0.77, 0.69, 0.94, 0.98, 0.90, 0.77, 0.82, 0.77, 0.57, 0.36,
                 0.33, 0.48, 0.73, 0.82, 0.90, 0.82, 0.69, 0.77, 0.82, 0.73,
                 0.65, 0.52, 0.69, 0.82, 0.77, 0.73, 0.77, 0.69, 0.48, 0.52,
                 0.82, 0.94, 0.77, 0.40, 0.73, 0.82, 0.82, 0.80, 0.82, 0.98,
                 0.98]

# ---------------- Axis text ----------------
title_text = "DV UMa"
x_title = "Wavelength (A)"
y_title = "Flux (ergs/s/cm2/A)"
flux_tick_vals = [0, 1, 2, 3]
sci_tick_text = ["0", "10<sup>−15</sup>", "2×10<sup>−15</sup>", "3×10<sup>−15</sup>"]
plain_tick_text = ["0", "1", "2", "3"]
panel_ranges = [(1145, 1330), (1330, 1515), (1515, 1700)]

# ---------------- Figure ----------------
# The figure is kept no wider than the window (so the page never overflows);
# the capture shows an 8px body margin and a slight shrink, which the pixel
# mapping below compensates for.
OFF = 8
SX, SY = 0.983, 0.991
W, H = 822, 990
FONT = "DejaVu Sans"
RED = "#ff0000"
BLUE = "#0000ff"


def px_x(p):
    return (p / SX - OFF) / W


def px_y(p):
    return 1 - (p / SY - OFF) / H


fig = go.Figure()


def add_line(x, y, color, width, idx):
    suffix = "" if idx == 1 else str(idx)
    fig.add_trace(go.Scatter(x=x, y=y, mode="lines", line=dict(color=color, width=width),
                             xaxis="x" + suffix, yaxis="y" + suffix, showlegend=False,
                             hoverinfo="skip"))


# Panel 1
add_line(p1_red_a_wave, p1_red_a_flux, RED, 1, 1)
add_line(p1_red_b_wave, p1_red_b_flux, RED, 1, 1)
add_line(p1_blue_a_wave, p1_blue_a_flux, BLUE, 1, 1)
add_line(p1_blue_b_wave, p1_blue_b_flux, BLUE, 1, 1)
add_line(p1_model_wave, p1_model_flux, "black", 1.5, 1)
# Panel 2
add_line(p2_red_wave, p2_red_flux, RED, 1, 2)
add_line(p2_model_wave, p2_model_flux, "black", 1.5, 2)
# Panel 3
add_line(p3_red_wave, p3_red_flux, RED, 1, 3)
add_line(p3_model_wave, p3_model_flux, "black", 1.5, 3)

# zero-flux dashed reference line in each panel
for i, (lo, hi) in enumerate(panel_ranges, start=1):
    suffix = "" if i == 1 else str(i)
    fig.add_trace(go.Scatter(x=[lo, hi], y=[0, 0], mode="lines",
                             line=dict(color="black", width=2, dash="7px,4px"),
                             xaxis="x" + suffix, yaxis="y" + suffix, showlegend=False,
                             hoverinfo="skip", cliponaxis=False))

x_dom = [px_x(70.3), px_x(806.0)]
panel_px = [(65.7, 226.7), (284.0, 445.0), (502.7, 662.7)]

layout = dict(width=W, height=H, margin=dict(l=0, r=0, t=0, b=0),
              paper_bgcolor="white", plot_bgcolor="white",
              font=dict(family=FONT, size=12, color="black"), showlegend=False)

last_label = None
for i, ((lo, hi), (top, bot)) in enumerate(zip(panel_ranges, panel_px), start=1):
    suffix = "" if i == 1 else str(i)
    ticks = [v for v in range(lo - lo % 10, hi + 1, 10) if lo <= v <= hi]
    ticktext = [str(v) if v % 20 == 0 else "" for v in ticks]
    if i == 3 and ticktext[-1]:
        # label at the very right edge is drawn right-aligned so it stays in view
        last_label = ticktext[-1]
        ticktext[-1] = ""
    layout["xaxis" + suffix] = dict(
        domain=x_dom, range=[lo, hi], anchor="y" + suffix,
        tickvals=ticks, ticktext=ticktext, ticks="inside", ticklen=6, tickwidth=1,
        tickcolor="black", showline=True, linecolor="black", linewidth=1,
        mirror="allticks", showgrid=False, zeroline=False,
        tickfont=dict(family=FONT, size=12.5), ticklabelstandoff=2)
    ydict = dict(
        domain=[px_y(bot), px_y(top)], range=[0, 4], anchor="x" + suffix,
        tickvals=flux_tick_vals, ticks="inside", ticklen=7, tickwidth=1,
        tickcolor="black", showline=True, linecolor="black", linewidth=1,
        mirror="allticks", showgrid=False, zeroline=False,
        tickfont=dict(family=FONT, size=12.5),
        minor=dict(dtick=0.2, ticks="inside", ticklen=4, tickcolor="black", showgrid=False))
    if i == 2:
        ydict.update(side="right", ticktext=plain_tick_text, ticklabelstandoff=1,
                     tickfont=dict(family=FONT, size=11))
    else:
        ydict.update(ticktext=sci_tick_text, ticklabelstandoff=5)
    layout["yaxis" + suffix] = ydict

fig.update_layout(**layout)

if last_label:
    fig.add_annotation(text=last_label, x=px_x(815), y=px_y(676), xref="paper", yref="paper",
                       showarrow=False, font=dict(family=FONT, size=12.5),
                       xanchor="right", yanchor="middle")

fig.add_annotation(text=title_text, x=px_x(432), y=px_y(28), xref="paper", yref="paper",
                   showarrow=False, font=dict(family=FONT, size=16), xanchor="center", yanchor="middle")
fig.add_annotation(text=x_title, x=px_x(441), y=px_y(703), xref="paper", yref="paper",
                   showarrow=False, font=dict(family=FONT, size=13), xanchor="center", yanchor="middle")
fig.add_annotation(text=y_title, x=px_x(36), y=px_y(365), xref="paper", yref="paper",
                   showarrow=False, textangle=-90, font=dict(family=FONT, size=14),
                   xanchor="center", yanchor="middle")

fig.write_html("out.html")
